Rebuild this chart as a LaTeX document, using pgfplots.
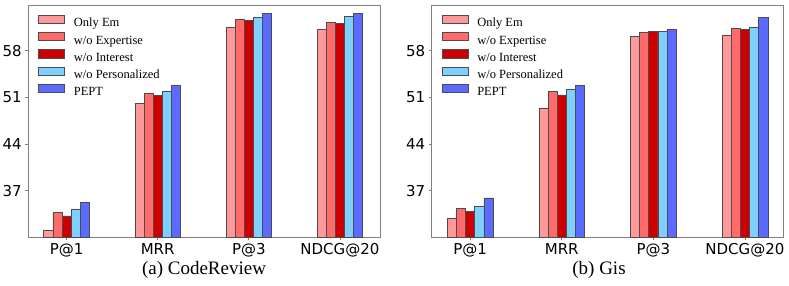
\documentclass[border=0pt]{standalone}
\usepackage{fontspec}
\setmainfont{Liberation Serif}
\newfontfamily\ticksf{DejaVu Sans}
\usepackage{pgfplots}
\pgfplotsset{compat=1.18}
\definecolor{cOnly}{HTML}{FF9999}
\definecolor{cExp}{HTML}{FF6B6B}
\definecolor{cInt}{HTML}{CC0000}
\definecolor{cPer}{HTML}{80D0FF}
\definecolor{cPEPT}{HTML}{5B6BFF}
\definecolor{frame}{HTML}{808080}
\newcommand{\legfont}{\fontsize{12.5}{12.5}\selectfont}
\newcommand{\legentry}[1]{{\legfont\rule[-2.6pt]{0pt}{11.2pt}#1}}
\pgfplotsset{
  every axis legend/.append style={draw=none, fill=none, at={(0.0284,0.958)}, anchor=north west,
      inner sep=0pt, outer sep=0pt, font=\legfont,
      nodes={inner sep=0pt, outer sep=0pt},
      row sep=3.6pt, column sep=0pt},
  mystyle/.style={
    scale only axis, width=351.7pt, height=232.3pt,
    ybar=0pt, bar width=0.1,
    ymin=30, ymax=64.85,
    xtick={0,1,2,3}, xticklabels={P@1,MRR,P@3,NDCG@20},
    ytick={37,44,51,58},
    tick align=outside, major tick length=3pt,
    xtick pos=lower, ytick pos=left,
    tick style={frame, line width=0.6pt},
    axis line style={frame, line width=0.8pt},
    ticklabel style={font=\ticksf\fontsize{15}{15}\selectfont},
    /pgf/number format/assume math mode=true,
    legend cell align=left,
    legend image code/.code={\draw[##1] (0pt,0pt) rectangle (26pt,8.3pt); \path (35pt,4pt);},
  },
  barA/.style={draw=black!70, fill=cOnly, line width=0.6pt},
  barB/.style={draw=black!70, fill=cExp, line width=0.6pt},
  barC/.style={draw=black!70, fill=cInt, line width=0.6pt},
  barD/.style={draw=black!70, fill=cPer, line width=0.6pt},
  barE/.style={draw=black!70, fill=cPEPT, line width=0.6pt},
}
\begin{document}
\begin{tikzpicture}
\path[use as bounding box] (0,0) rectangle (789pt,285pt);
\begin{axis}[mystyle, at={(28.3pt,47.7pt)}, anchor=south west, xmin=-0.42, xmax=3.44]
\addplot[barA] coordinates {(0,31.0) (1,50.05) (2,61.55) (3,61.15)};
\addplot[barB] coordinates {(0,33.7) (1,51.55) (2,62.7) (3,62.3)};
\addplot[barC] coordinates {(0,33.2) (1,51.3) (2,62.55) (3,62.1)};
\addplot[barD] coordinates {(0,34.25) (1,51.95) (2,63.0) (3,63.1)};
\addplot[barE] coordinates {(0,35.25) (1,52.8) (2,63.6) (3,63.55)};
\legend{\legentry{Only Em}, \legentry{w/o Expertise}, \legentry{w/o Interest}, \legentry{w/o Personalized}, \legentry{PEPT}}
\end{axis}
\begin{axis}[mystyle, at={(431.7pt,47.7pt)}, anchor=south west, xmin=-0.42, xmax=3.42]
\addplot[barA] coordinates {(0,32.9) (1,49.3) (2,60.1) (3,60.3)};
\addplot[barB] coordinates {(0,34.3) (1,51.85) (2,60.75) (3,61.3)};
\addplot[barC] coordinates {(0,33.9) (1,51.35) (2,60.85) (3,61.2)};
\addplot[barD] coordinates {(0,34.65) (1,52.2) (2,60.9) (3,61.55)};
\addplot[barE] coordinates {(0,35.9) (1,52.8) (2,61.15) (3,62.95)};
\legend{\legentry{Only Em}, \legentry{w/o Expertise}, \legentry{w/o Interest}, \legentry{w/o Personalized}, \legentry{PEPT}}
\end{axis}
\node[anchor=base, font=\fontsize{19}{19}\selectfont] at (204pt,10.5pt) {(a) CodeReview};
\node[anchor=base, font=\fontsize{19}{19}\selectfont] at (599pt,10.5pt) {(b) Gis};
\end{tikzpicture}
\end{document}
